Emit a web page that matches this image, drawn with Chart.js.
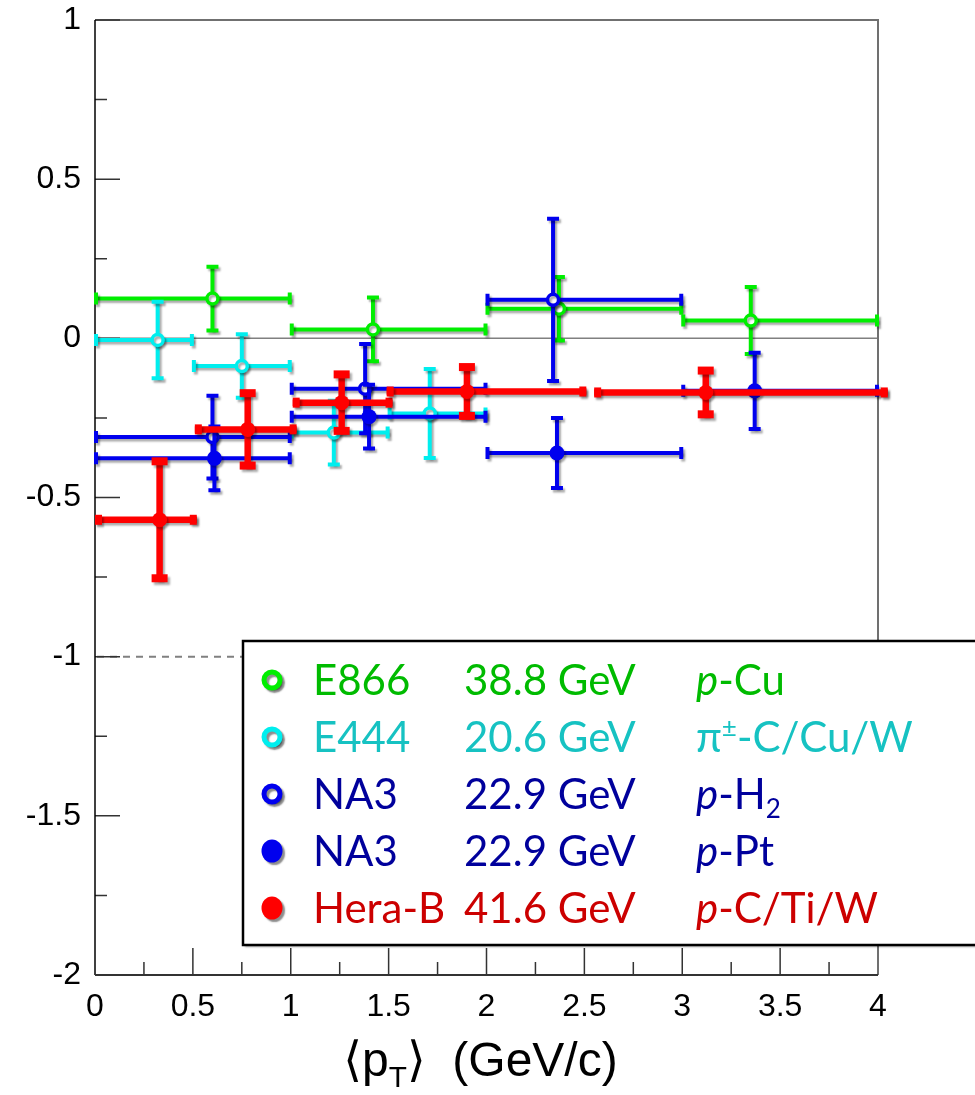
<!DOCTYPE html>
<html>
<head>
<meta charset="utf-8">
<script src="https://cdn.jsdelivr.net/npm/chart.js@4.4.1/dist/chart.umd.min.js"></script>
<style>
  html, body { margin: 0; padding: 0; background: #ffffff; }
  #wrap { width: 975px; height: 1095px; position: relative; }
</style>
</head>
<body>
<div id="wrap"><canvas id="c" width="975" height="1095"></canvas></div>
<script>
// ---------------- DATA ----------------
const xTickValues = [0, 0.5, 1, 1.5, 2, 2.5, 3, 3.5, 4];
const yTickValues = [-2, -1.5, -1, -0.5, 0, 0.5, 1];

// E866 38.8 GeV p-Cu (open green)
const e866X     = [0.60, 1.42, 2.37, 3.35];
const e866Y     = [0.125, 0.028, 0.093, 0.056];
const e866YErr  = [0.10, 0.10, 0.10, 0.105];
const e866XLow  = [0.0, 1.0, 2.0, 3.0];
const e866XHigh = [1.0, 2.0, 3.0, 4.0];

// E444 20.6 GeV pi-C/Cu/W (open cyan)
const e444X     = [0.32, 0.75, 1.22, 1.71];
const e444Y     = [-0.005, -0.087, -0.296, -0.236];
const e444YErr  = [0.12, 0.10, 0.10, 0.14];
const e444XLow  = [0.0, 0.5, 1.0, 1.5];
const e444XHigh = [0.5, 1.0, 1.5, 2.0];

// NA3 22.9 GeV p-H2 (open blue)
const na3hX     = [0.60, 1.38, 2.34];
const na3hY     = [-0.31, -0.158, 0.121];
const na3hYErr  = [0.13, 0.14, 0.255];
const na3hXLow  = [0.0, 1.0, 2.0];
const na3hXHigh = [1.0, 2.0, 3.0];

// NA3 22.9 GeV p-Pt (filled blue)
const na3pX     = [0.61, 1.40, 2.36, 3.37];
const na3pY     = [-0.377, -0.246, -0.36, -0.165];
const na3pYErr  = [0.10, 0.10, 0.11, 0.12];
const na3pXLow  = [0.0, 1.0, 2.0, 3.0];
const na3pXHigh = [1.0, 2.0, 3.0, 4.0];

// Hera-B 41.6 GeV p-C/Ti/W (filled red)
const herabX     = [0.33, 0.78, 1.26, 1.90, 3.12];
const herabY     = [-0.57, -0.286, -0.202, -0.167, -0.17];
const herabYErr  = [0.19, 0.12, 0.095, 0.083, 0.075];
const herabXLow  = [0.0, 0.51, 1.01, 1.49, 2.55];
const herabXHigh = [0.52, 1.03, 1.52, 2.51, 4.05];

// legend texts
const legendExp    = ['E866', 'E444', 'NA3', 'NA3', 'Hera-B'];
const legendEnergy = ['38.8 GeV', '20.6 GeV', '22.9 GeV', '22.9 GeV', '41.6 GeV'];
// ------------------------------------------------------------------------

function pts(xs, ys) { return xs.map((x, i) => ({x: x, y: ys[i]})); }

const COL = {
  green: '#00ee00', cyan: '#00eeee', blue: '#0000ee', red: '#ff0000'
};
const TXT = {
  green: '#00bb00', cyan: '#16c2c2', blue: '#00009c', red: '#cc0000'
};

const datasets = [
  { label: 'E866', data: pts(e866X, e866Y), order: 5, color: COL.green, open: true,
    err: {yErr: e866YErr, xLow: e866XLow, xHigh: e866XHigh} },
  { label: 'E444', data: pts(e444X, e444Y), order: 4, color: COL.cyan, open: true,
    err: {yErr: e444YErr, xLow: e444XLow, xHigh: e444XHigh} },
  { label: 'NA3 p-H2', data: pts(na3hX, na3hY), order: 3, color: COL.blue, open: true,
    err: {yErr: na3hYErr, xLow: na3hXLow, xHigh: na3hXHigh} },
  { label: 'NA3 p-Pt', data: pts(na3pX, na3pY), order: 2, color: COL.blue, open: false,
    err: {yErr: na3pYErr, xLow: na3pXLow, xHigh: na3pXHigh} },
  { label: 'Hera-B', data: pts(herabX, herabY), order: 1, color: COL.red, open: false, thick: true,
    err: {yErr: herabYErr, xLow: herabXLow, xHigh: herabXHigh} }
].map(d => Object.assign(d, {
  pointStyle: 'circle',
  pointRadius: d.open ? 5.5 : 7.5,
  pointBorderWidth: d.open ? 3.5 : 0,
  pointBorderColor: d.color,
  pointBackgroundColor: d.open ? '#ffffff' : d.color,
  showLine: false
}));

function setShadow(ctx, ox, oy, blur, col) {
  ctx.shadowColor = col || 'rgba(0,0,0,0.33)';
  ctx.shadowOffsetX = ox; ctx.shadowOffsetY = oy; ctx.shadowBlur = blur;
}

const errorBars = {
  id: 'errorBars',
  beforeDatasetDraw(chart, args) {
    const ds = chart.data.datasets[args.index];
    const ctx = chart.ctx, xs = chart.scales.x, ys = chart.scales.y;
    ctx.save();
    setShadow(ctx, 2, 2.5, 2);
    const e = ds.err;
    ctx.strokeStyle = ds.color; ctx.fillStyle = ds.color;
    const lw = ds.thick ? 6.5 : 4;
    ctx.lineCap = 'butt';
    ds.data.forEach((p, i) => {
      const px = xs.getPixelForValue(p.x), py = ys.getPixelForValue(p.y);
      const x1 = xs.getPixelForValue(e.xLow[i]), x2 = xs.getPixelForValue(e.xHigh[i]);
      const yt = ys.getPixelForValue(p.y + e.yErr[i]), yb = ys.getPixelForValue(p.y - e.yErr[i]);
      ctx.lineWidth = lw;
      ctx.beginPath();
      ctx.moveTo(x1, py); ctx.lineTo(x2, py);
      ctx.moveTo(px, yt); ctx.lineTo(px, yb);
      ctx.stroke();
      if (ds.thick) {
        ctx.fillRect(px - 8, yt - 2, 16, 8);
        ctx.fillRect(px - 8, yb - 6, 16, 8);
        ctx.fillRect(x1, py - 5, 7, 10);
        ctx.fillRect(x2 - 7, py - 5, 7, 10);
      } else {
        ctx.lineWidth = 4;
        ctx.beginPath();
        ctx.moveTo(px - 6, yt); ctx.lineTo(px + 6, yt);
        ctx.moveTo(px - 6, yb); ctx.lineTo(px + 6, yb);
        ctx.moveTo(x1 + 1, py - 6); ctx.lineTo(x1 + 1, py + 6);
        ctx.moveTo(x2 - 1, py - 6); ctx.lineTo(x2 - 1, py + 6);
        ctx.stroke();
      }
    });
    // keep shadow for the points drawn by the library
  },
  afterDatasetDraw(chart) { chart.ctx.restore(); }
};

const frame = {
  id: 'frame',
  beforeDatasetsDraw(chart) {
    const ctx = chart.ctx, a = chart.chartArea, xs = chart.scales.x, ys = chart.scales.y;
    ctx.save();
    // zero line
    ctx.strokeStyle = '#808080'; ctx.lineWidth = 1.5;
    const y0 = ys.getPixelForValue(0);
    ctx.beginPath(); ctx.moveTo(a.left, y0); ctx.lineTo(a.right, y0); ctx.stroke();
    // dashed -1 line
    const ym1 = ys.getPixelForValue(-1);
    ctx.setLineDash([7, 6]); ctx.lineWidth = 2; ctx.strokeStyle = '#808080';
    ctx.beginPath(); ctx.moveTo(a.left + 2, ym1); ctx.lineTo(a.right, ym1); ctx.stroke();
    ctx.setLineDash([]);
    // top & right border
    ctx.strokeStyle = '#707070'; ctx.lineWidth = 2;
    ctx.beginPath(); ctx.moveTo(a.left, a.top); ctx.lineTo(a.right, a.top); ctx.lineTo(a.right, a.bottom); ctx.stroke();
    // ticks
    ctx.strokeStyle = '#333333'; ctx.lineWidth = 1.5;
    ctx.beginPath();
    for (let v = -2; v < 1.0001; v += 0.25) {
      const y = ys.getPixelForValue(v);
      const major = Math.abs(v * 2 - Math.round(v * 2)) < 1e-6;
      ctx.moveTo(a.left, y); ctx.lineTo(a.left + (major ? 25 : 12), y);
    }
    for (let v = 0.25; v < 4; v += 0.25) {
      const x = xs.getPixelForValue(v);
      const major = Math.abs(v * 2 - Math.round(v * 2)) < 1e-6;
      ctx.moveTo(x, a.bottom); ctx.lineTo(x, a.bottom - (major ? 27 : 13));
    }
    ctx.stroke();
    // axes
    ctx.strokeStyle = '#000000'; ctx.lineWidth = 1.5;
    ctx.beginPath(); ctx.moveTo(a.left, a.top); ctx.lineTo(a.left, a.bottom); ctx.stroke();
    ctx.strokeStyle = '#333333'; ctx.lineWidth = 2;
    ctx.beginPath(); ctx.moveTo(a.left, a.bottom); ctx.lineTo(a.right, a.bottom); ctx.stroke();
    ctx.restore();
  }
};

function drawRich(ctx, x, y, parts, size, family, color) {
  let cx = x;
  parts.forEach(p => {
    const s = (p.sub || p.sup) ? size * 0.62 : size;
    ctx.font = (p.italic ? 'italic ' : '') + s + 'px ' + family;
    ctx.fillStyle = color;
    const dy = p.sub ? size * 0.22 : (p.sup ? -size * 0.36 : 0);
    ctx.fillText(p.t, cx, y + dy);
    cx += ctx.measureText(p.t).width;
  });
  return cx - x;
}

const legendAndTitle = {
  id: 'legendAndTitle',
  afterDraw(chart) {
    const ctx = chart.ctx;
    ctx.save();
    // legend box
    setShadow(ctx, 2, 2, 2, 'rgba(0,0,0,0.35)');
    ctx.fillStyle = '#ffffff';
    ctx.fillRect(243, 641, 760, 304);
    setShadow(ctx, 0, 0, 0, 'rgba(0,0,0,0)');
    ctx.strokeStyle = '#000000'; ctx.lineWidth = 2.5;
    ctx.strokeRect(243, 641, 760, 304);

    const fam = 'Lato, "Noto Sans", sans-serif';
    const rowsY = [680, 737, 794, 851, 908];
    const mcol = [COL.green, COL.cyan, COL.blue, COL.blue, COL.red];
    const tcol = [TXT.green, TXT.cyan, TXT.blue, TXT.blue, TXT.red];
    const open = [true, true, true, false, false];
    const col3 = [
      [{t: 'p', italic: true}, {t: '-Cu'}],
      [{t: 'π'}, {t: '±', sup: true}, {t: '-C/Cu/W'}],
      [{t: 'p', italic: true}, {t: '-H'}, {t: '2', sub: true}],
      [{t: 'p', italic: true}, {t: '-Pt'}],
      [{t: 'p', italic: true}, {t: '-C/Ti/W'}]
    ];
    ctx.textBaseline = 'alphabetic'; ctx.textAlign = 'left';
    rowsY.forEach((cy, i) => {
      // marker
      ctx.save();
      setShadow(ctx, 2.5, 2.5, 1.5, 'rgba(0,0,0,0.45)');
      ctx.beginPath();
      if (open[i]) {
        ctx.arc(272, cy, 8, 0, Math.PI * 2);
        ctx.fillStyle = '#ffffff'; ctx.fill();
        ctx.lineWidth = 5; ctx.strokeStyle = mcol[i]; ctx.stroke();
      } else {
        ctx.ellipse(272, cy, 10.5, 11.5, 0, 0, Math.PI * 2);
        ctx.fillStyle = mcol[i]; ctx.fill();
      }
      ctx.restore();
      const base = cy + 15;
      drawRich(ctx, 313, base, [{t: legendExp[i]}], 42, fam, tcol[i]);
      drawRich(ctx, 464, base, [{t: legendEnergy[i]}], 42, fam, tcol[i]);
      drawRich(ctx, 696, base, col3[i], 42, fam, tcol[i]);
    });

    // x-axis title with subscript
    const tf = '"Liberation Sans", Arial, "DejaVu Sans", sans-serif';
    const TS = 48;
    const tparts = [{t: '⟨p'}, {t: 'T', sub: true}, {t: '⟩  (GeV/c)'}];
    let w = 0;
    tparts.forEach(p => {
      const s = p.sub ? TS * 0.62 : TS;
      ctx.font = s + 'px ' + tf; w += ctx.measureText(p.t).width;
    });
    const cx = (chart.chartArea.left + chart.chartArea.right) / 2 - w / 2 - 6;
    drawRich(ctx, cx, 1076, tparts, TS, tf, '#000000');
    ctx.restore();
  }
};

const tickFont = { family: '"Liberation Sans", Arial, sans-serif', size: 32 };

new Chart(document.getElementById('c'), {
  type: 'scatter',
  data: { datasets: datasets },
  options: {
    responsive: false,
    animation: false,
    events: [],
    layout: { padding: { top: 20, right: 97, left: 0, bottom: 0 } },
    plugins: { legend: { display: false }, tooltip: { enabled: false }, title: { display: false } },
    scales: {
      x: {
        type: 'linear', min: 0, max: 4,
        afterFit(s) { s.height = 120; s.paddingLeft = 0; s.paddingRight = 0; },
        afterBuildTicks(s) { s.ticks = xTickValues.map(v => ({value: v})); },
        grid: { display: false, drawTicks: false },
        border: { display: false },
        ticks: { font: tickFont, color: '#000000', padding: 13, maxRotation: 0, autoSkip: false,
                 callback: v => String(v) }
      },
      y: {
        type: 'linear', min: -2, max: 1,
        afterFit(s) { s.width = 95; s.paddingTop = 0; s.paddingBottom = 0; },
        afterBuildTicks(s) { s.ticks = yTickValues.map(v => ({value: v})); },
        grid: { display: false, drawTicks: false },
        border: { display: false },
        ticks: { font: tickFont, color: '#000000', padding: 14, autoSkip: false,
                 callback: v => String(v) }
      }
    }
  },
  plugins: [frame, errorBars, legendAndTitle]
});
</script>
</body>
</html>
